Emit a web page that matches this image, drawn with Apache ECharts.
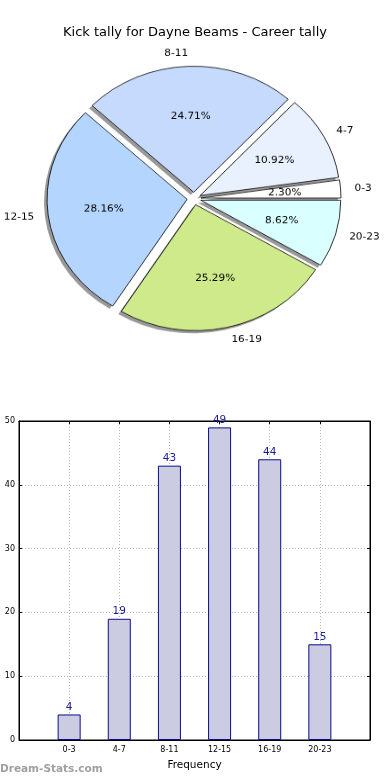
<!DOCTYPE html>
<html>
<head>
<meta charset="utf-8">
<script src="https://cdn.jsdelivr.net/npm/echarts@6/dist/echarts.min.js"></script>
<style>
html,body{margin:0;padding:0;background:#fff;}
#main{position:absolute;left:0;top:0;width:390px;height:780px;}
#pie{position:absolute;left:0;top:0;width:390px;height:400px;transform-origin:194px 198.5px;transform:scaleY(0.9);}
</style>
</head>
<body>
<div id="main"></div>
<div id="pie"></div>
<script>
const titleText = 'Kick tally for Dayne Beams - Career tally';
const categories = ['0-3', '4-7', '8-11', '12-15', '16-19', '20-23'];
const values = [4, 19, 43, 49, 44, 15];
const sliceColors = ['#ffffff', '#e9f0fe', '#c6dafe', '#b3d5fe', '#cfea8b', '#d9ffff'];
const yMin = 0, yMax = 50, yStep = 10;
const xAxisName = 'Frequency';
const watermark = 'Dream-Stats.com';

const FONT = 'DejaVu Sans';

// ---------- bar chart + title ----------
const main = echarts.init(document.getElementById('main'), null, {renderer: 'canvas'});
main.setOption({
  animation: false,
  backgroundColor: '#fff',
  title: {
    text: titleText, left: 'center', top: 21,
    textStyle: {fontFamily: FONT, fontSize: 13, fontWeight: 'normal', color: '#000'}
  },
  graphic: [{
    type: 'text', left: 0, top: 764,
    style: {text: watermark, fontFamily: FONT, fontSize: 10.5, fontWeight: 'bold', fill: '#a0a0a0'}
  }],
  grid: {left: 19, right: 20, top: 421, bottom: 40, show: true, borderColor: '#000', borderWidth: 1, containLabel: false},
  xAxis: [{
    type: 'value', min: -1, max: categories.length, interval: 1, position: 'bottom',
    name: xAxisName, nameLocation: 'middle', nameGap: 20,
    nameTextStyle: {fontFamily: FONT, fontSize: 10.5, color: '#000'},
    axisLine: {show: true, onZero: false, lineStyle: {color: '#000', width: 1}},
    axisTick: {show: true, inside: true, length: 3, lineStyle: {color: '#000'}},
    axisLabel: {fontFamily: FONT, fontSize: 8, color: '#000', margin: 6,
      formatter: v => (v >= 0 && v < categories.length) ? categories[v] : ''},
    splitLine: {show: true, lineStyle: {color: '#b4b4b4', type: [1, 2], width: 1}}
  }, {
    type: 'value', min: -1, max: categories.length, interval: 1, position: 'top',
    axisLine: {show: true, onZero: false, lineStyle: {color: '#000'}},
    axisTick: {show: true, inside: true, length: 3, lineStyle: {color: '#000'}},
    axisLabel: {show: false}, splitLine: {show: false}
  }],
  yAxis: [{
    type: 'value', min: yMin, max: yMax, interval: yStep, position: 'left',
    axisLine: {show: true, onZero: false, lineStyle: {color: '#000', width: 1}},
    axisTick: {show: true, inside: true, length: 3, lineStyle: {color: '#000'}},
    axisLabel: {fontFamily: FONT, fontSize: 8, color: '#000', margin: 4},
    splitLine: {show: true, lineStyle: {color: '#b4b4b4', type: [1, 2], width: 1}}
  }, {
    type: 'value', min: yMin, max: yMax, interval: yStep, position: 'right',
    axisLine: {show: true, onZero: false, lineStyle: {color: '#000'}},
    axisTick: {show: true, inside: true, length: 3, lineStyle: {color: '#000'}},
    axisLabel: {show: false}, splitLine: {show: false}
  }],
  series: [{
    type: 'bar', xAxisIndex: 0, yAxisIndex: 0,
    data: values.map((v, i) => [i, v]),
    barWidth: 23,
    itemStyle: {color: '#cbcbe2', borderColor: '#0c0c8c', borderWidth: 1},
    label: {show: true, position: 'top', distance: 2, fontFamily: FONT, fontSize: 10.5, color: '#1a1a9a',
      formatter: p => p.value[1]},
    emphasis: {disabled: true}
  }]
});

// ---------- pie (drawn squashed vertically like the reference) ----------
const pie = echarts.init(document.getElementById('pie'), null, {renderer: 'canvas'});
const R = 140, EXPLODE = 7, CX = 194, CY = 198.5;
const pieData = (colorFn) => categories.map((c, i) => ({
  name: c, value: values[i], selected: true,
  itemStyle: colorFn(i)
}));
const common = {
  type: 'pie', startAngle: 0, clockwise: false, selectedMode: 'multiple', selectedOffset: EXPLODE,
  avoidLabelOverlap: false, emphasis: {disabled: true}, animation: false
};
pie.setOption({
  animation: false,
  series: [
    Object.assign({}, common, {
      name: 'shadow', silent: true,
      center: [CX - 3, CY + 3], radius: R,
      label: {show: false}, labelLine: {show: false},
      data: pieData(() => ({color: 'rgba(70,70,70,0.55)', borderWidth: 0})),
      select: {itemStyle: {color: 'rgba(70,70,70,0.55)', borderWidth: 0}}
    }),
    Object.assign({}, common, {
      name: 'main', silent: true,
      center: [CX, CY], radius: R,
      label: {show: true, position: 'outside', fontFamily: FONT, fontSize: 10.5, color: '#000',
        overflow: 'none', bleedMargin: 0, distanceToLabelLine: 0, formatter: '{b}'},
      labelLine: {show: true, length: 14, length2: 0, lineStyle: {width: 0, opacity: 0}},
      data: pieData(i => ({color: sliceColors[i], borderColor: '#000', borderWidth: 0.8})),
      select: {itemStyle: {borderColor: '#000', borderWidth: 0.8}}
    }),
    Object.assign({}, common, {
      name: 'pct', silent: true,
      center: [CX, CY], radius: 2 * (0.6 * R - 3),
      label: {show: true, position: 'inside', fontFamily: FONT, fontSize: 10.5, color: '#000',
        overflow: 'none', formatter: p => p.percent.toFixed(2) + '%'},
      labelLine: {show: false},
      data: pieData(() => ({color: 'rgba(0,0,0,0)', borderWidth: 0})),
      select: {itemStyle: {color: 'rgba(0,0,0,0)', borderWidth: 0}}
    })
  ]
});
</script>
</body>
</html>
